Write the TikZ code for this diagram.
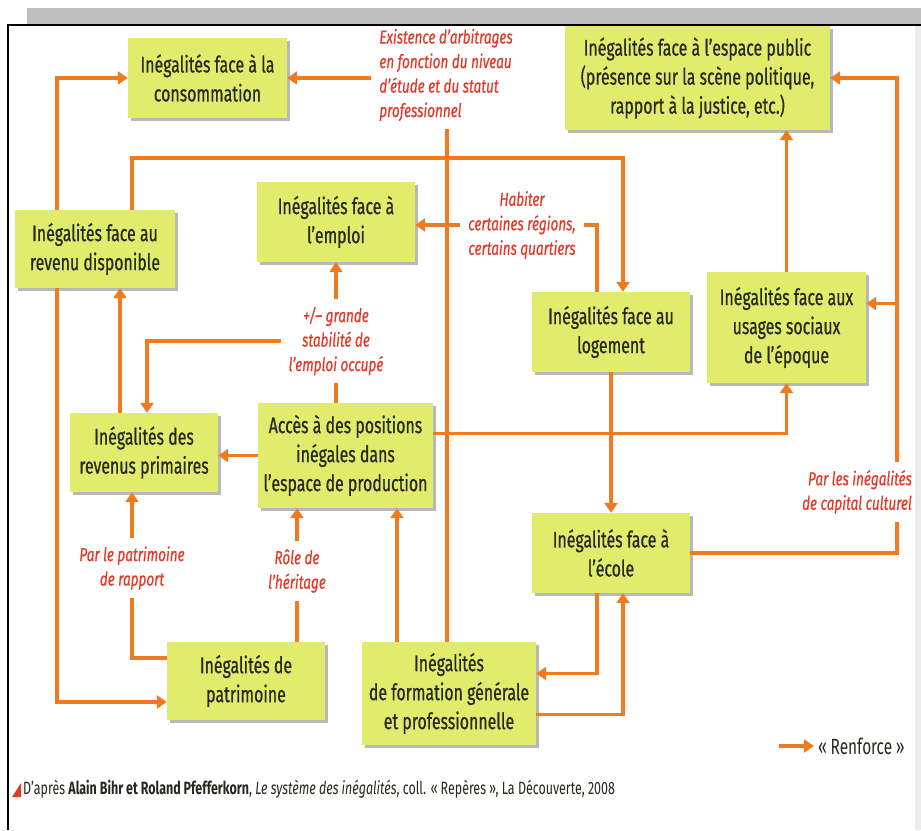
\documentclass[tikz,border=0pt]{standalone}
\usepackage{fontspec}
\setmainfont{Fira Sans}[FakeStretch=0.70]
\newfontfamily\boxfam{Fira Sans}[FakeStretch=0.70, FakeBold=0.6]
\newfontfamily\labfam{Fira Sans}[FakeStretch=0.72, FakeBold=0.5]
\usetikzlibrary{arrows.meta,shadows,calc}
\definecolor{boxc}{RGB}{226,236,108}
\definecolor{boxtext}{RGB}{40,40,30}
\definecolor{orc}{RGB}{240,122,32}
\definecolor{labc}{RGB}{226,58,40}
\definecolor{barc}{RGB}{190,190,190}
\tikzset{
  box/.style={fill=boxc, text=boxtext, align=center, inner sep=2pt,
    font=\boxfam\fontsize{22.7}{29}\selectfont,
    drop shadow={shadow xshift=2.5pt, shadow yshift=-2.5pt, opacity=0.28, fill=black}},
  lab/.style={text=labc, inner sep=2pt, outer sep=6pt,
    font=\labfam\itshape\fontsize{18.8}{24.5}\selectfont},
  ln/.style={draw=orc, line width=3.3pt},
  arr/.style={draw=orc, line width=3.3pt, -{Triangle[length=10pt,width=13pt]}},
}
\begin{document}
\begin{tikzpicture}[x=1pt,y=-1pt]
\useasboundingbox (0,0) rectangle (921,830);
\fill[white] (0,0) rectangle (921,830);
% frame
\fill[barc] (27,8) rectangle (921,25);
\fill[black!8] (915,25) rectangle (921,830);
\draw[black, line width=1.3pt] (8,830) -- (8,25) -- (921,25);

% boxes
\node[box, minimum width=159pt, minimum height=80pt] (cons) at (207.5,78) {Inégalités face à la\\consommation};
\node[box, minimum width=265pt, minimum height=104pt] (pub) at (697.5,78) {Inégalités face à l’espace public\\(présence sur la scène politique,\\rapport à la justice, etc.)};
\node[box, minimum width=160pt, minimum height=78pt] (revd) at (95,249) {Inégalités face au\\revenu disponible};
\node[box, minimum width=158pt, minimum height=80pt] (empl) at (336,222) {Inégalités face à\\l’emploi};
\node[box, minimum width=158pt, minimum height=80pt] (loge) at (611,332) {Inégalités face au\\logement};
\node[box, minimum width=159pt, minimum height=111pt] (usag) at (786.5,327.5) {Inégalités face aux\\usages sociaux\\de l’époque};
\node[box, minimum width=148pt, minimum height=79pt] (prim) at (144,452.5) {Inégalités des\\revenus primaires};
\node[box, minimum width=175pt, minimum height=105pt] (acces) at (345.5,455.5) {Accès à des positions\\inégales dans\\l’espace de production};
\node[box, minimum width=158pt, minimum height=80pt] (ecole) at (611,553) {Inégalités face à\\l’école};
\node[box, minimum width=158pt, minimum height=78pt] (patr) at (246,681) {Inégalités de\\patrimoine};
\node[box, minimum width=174pt, minimum height=103pt] (form) at (449,693.5) {Inégalités\\de formation générale\\et professionnelle};

% labels
\node[lab, align=left] (exist) at (446,75) {Existence d’arbitrages\\en fonction du niveau\\d’étude et du statut\\professionnel};
\node[lab, align=center] (habit) at (522,225) {Habiter\\certaines régions,\\certains quartiers};
\node[lab, align=center] (stab) at (336,341) {+/– grande\\stabilité de\\l’emploi occupé};
\node[lab, align=center] (rapp) at (132,568) {Par le patrimoine\\de rapport};
\node[lab, align=center] (herit) at (297,571) {Rôle de\\l’héritage};
\node[lab, align=right] (cult) at (857,492) {Par les inégalités\\de capital culturel};

% helper coordinates
\coordinate (xe) at (447,0);
\coordinate (xr) at (897,0);
\coordinate (hy) at (0,158);
\coordinate (r1) at ([xshift=-38pt]revd.north);
\coordinate (r2) at ([xshift=-38pt]revd.south);
\coordinate (r3) at ([xshift=37pt]revd.north);
\coordinate (pw) at ([yshift=-21pt]patr.west);
\coordinate (pp) at ([yshift=23pt]patr.west);
\coordinate (l1) at ([xshift=12pt]loge.north);
\coordinate (l2) at ([xshift=-14pt]loge.north);
\coordinate (p1) at ([xshift=-24pt]prim.north);
\coordinate (p2) at ([xshift=3pt]prim.north);
\coordinate (a1) at ([yshift=22pt]acces.east);
\coordinate (u1) at ([yshift=24pt]usag.east);
\coordinate (e1) at ([xshift=-14pt]ecole.south);
\coordinate (e2) at ([xshift=12pt]ecole.south);
\coordinate (f1) at ([yshift=20pt]form.east);
\coordinate (f2) at ([yshift=-21pt]form.east);
\coordinate (f3) at ([xshift=-52pt]form.north);

% connectors
\draw[ln] (form.north -| xe) -- (exist.south -| xe);
\draw[arr] (exist.west |- cons.east) -- (cons.east);
\draw[arr] (r1) |- (cons.west);
\draw[arr] (r2) |- (pw);
\draw[arr] (r3) |- (l1 |- hy) -- (l1);
\draw[arr] (p1) -- (p1 |- revd.south);
\draw[ln] (acces.north -| empl.south) -- (stab.south -| empl.south);
\draw[arr] (stab.north -| empl.south) -- (empl.south);
\draw[arr] (stab.west) -| (p2);
\draw[arr] (acces.west) -- (acces.west -| prim.east);
\draw[arr] (a1) -| (usag.south);
\draw[ln] (l2) |- (habit.east);
\draw[arr] (habit.west) -- (habit.west -| empl.east);
\draw[arr] (loge.south) -- (ecole.north);
\draw[arr] (usag.north) -- (usag.north |- pub.south);
\draw[ln] (ecole.east) -| (cult.south -| xr);
\draw[arr] (cult.north -| xr) |- (pub.east);
\draw[arr] (u1 -| xr) -- (u1);
\draw[arr] (e1) |- (f1);
\draw[arr] (f2) -| (e2);
\draw[arr] (f3) -- (f3 |- acces.south);
\draw[ln] (patr.north -| herit.south) -- (herit.south);
\draw[arr] (herit.north) -- (herit.north |- acces.south);
\draw[ln] (pp) -| (rapp.south);
\draw[arr] (rapp.north) -- (rapp.north |- prim.south);

% legend
\node[text=boxtext, font=\fontsize{22}{26}\selectfont, anchor=west, inner sep=0pt] (leg) at (818,746) {«\,Renforce\,»};
\coordinate (lg) at (779,746);
\draw[arr] (lg) -- ([xshift=-4pt]leg.west);

% source
\fill[labc] (12,797) -- (21,797) -- (21,783) -- cycle;
\node[text=boxtext, font=\fontsize{17.8}{20}\selectfont, anchor=west, inner sep=0pt] (src) at (23,789.5) {D’après \textbf{Alain Bihr et Roland Pfefferkorn}, \textit{Le système des inégalités}, coll. «\,Repères\,», La Découverte, 2008};
\end{tikzpicture}
\end{document}
